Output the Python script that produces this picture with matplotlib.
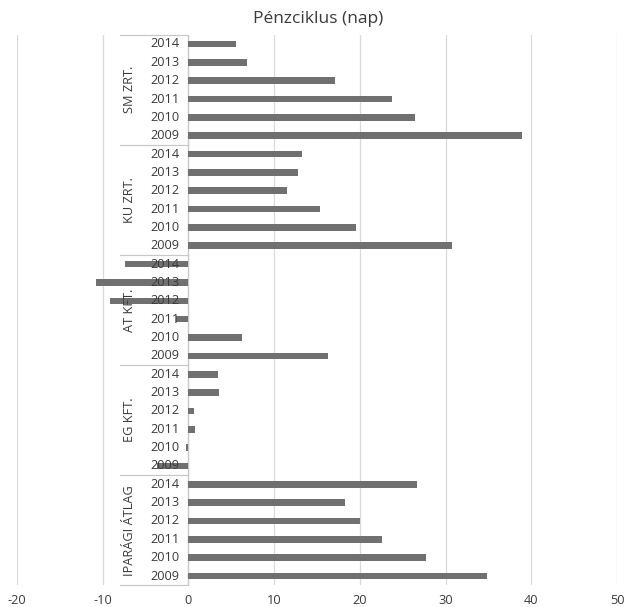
import matplotlib.pyplot as plt
import matplotlib.transforms as mtransforms

plt.rcParams['font.family'] = ['Open Sans', 'DejaVu Sans']

# groups listed top to bottom, values per group for 2009..2014
groups = ["SM ZRT.", "KU ZRT.", "AT KFT.", "EG KFT.", "IPARÁGI ÁTLAG"]
years = ["2009", "2010", "2011", "2012", "2013", "2014"]
sm_zrt = [38.9, 26.4, 23.7, 17.1, 6.8, 5.6]
ku_zrt = [30.8, 19.6, 15.4, 11.55, 12.75, 13.3]
at_kft = [16.3, 6.2, -1.4, -9.1, -10.8, -7.4]
eg_kft = [-3.7, -0.3, 0.8, 0.6, 3.6, 3.4]
iparagi = [34.8, 27.7, 22.6, 20.0, 18.3, 26.7]
series = [sm_zrt, ku_zrt, at_kft, eg_kft, iparagi]
xticks = [-20, -10, 0, 10, 20, 30, 40, 50]

W, H = 636, 607
fig = plt.figure(figsize=(W / 100, H / 100), dpi=100)
ax = fig.add_axes([17 / W, 1 - 585.2 / H, 600 / W, 550.4 / H])

bar_col = '#707070'
grid_col = '#d9d9d9'
line_col = '#c8c8c8'
txt_col = '#3a3a3a'
fs = 9.2

ng = len(groups)
ny = len(years)
px_per_unit = 600 / 70.0

year_tr = mtransforms.offset_copy(ax.transData, fig=fig, x=-9, y=0, units='dots')
grp_tr = mtransforms.offset_copy(ax.transData, fig=fig, x=-59, y=0, units='dots')

for gi, (name, vals) in enumerate(zip(groups, series)):
    base = (ng - 1 - gi) * ny
    pos = [base + i for i in range(ny)]
    ax.barh(pos, vals, height=0.36, color=bar_col, zorder=3)
    for p, yr in zip(pos, years):
        ax.text(0, p, yr, transform=year_tr, ha='right', va='center',
                fontsize=fs, color=txt_col, zorder=5)
    ax.text(0, base + (ny - 1) / 2, name, transform=grp_tr, rotation=90,
            ha='center', va='center', fontsize=fs, color=txt_col, zorder=5)

# group separators of the category axis
for b in range(ng + 1):
    ax.plot([-68 / px_per_unit, 0], [b * ny - 0.5] * 2, color=line_col,
            lw=0.9, zorder=2, clip_on=False)
ax.axvline(0, color=line_col, lw=0.9, zorder=2)

ax.set_xlim(-20, 50)
ax.set_ylim(-0.5, ng * ny - 0.5)
ax.set_xticks(xticks)
ax.set_xticklabels([str(t) for t in xticks])
ax.set_yticks([])
ax.xaxis.grid(True, color=grid_col, lw=0.9, zorder=0)
ax.tick_params(axis='x', length=0, pad=6, labelsize=fs, labelcolor=txt_col)
for s in ax.spines.values():
    s.set_visible(False)

fig.text(0.5, 1 - 19 / H, "Pénzciklus (nap)", ha='center', va='center',
         fontsize=12.5, color=txt_col)

fig.savefig('out.png', dpi=100)
